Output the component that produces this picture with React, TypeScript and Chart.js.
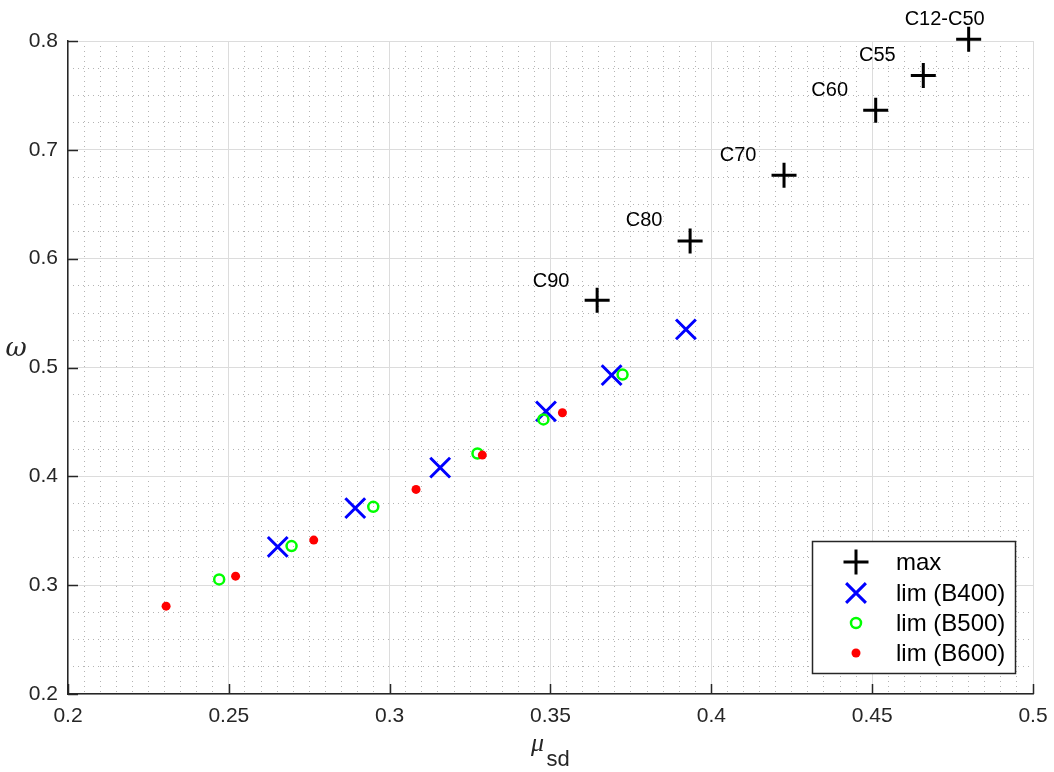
import React, { useEffect, useRef } from 'react';
import { Chart, registerables } from 'chart.js';
import { drawPoint } from 'chart.js/helpers';

Chart.register(...registerables);

// ---- data ----
const maxX = [0.3645, 0.3934, 0.4226, 0.4511, 0.4659, 0.4800];
const maxY = [0.5617, 0.6163, 0.6767, 0.7364, 0.7684, 0.8016];
const maxLabels = ['C90', 'C80', 'C70', 'C60', 'C55', 'C12-C50'];

const b400X = [0.2652, 0.2893, 0.3157, 0.3486, 0.3690, 0.3921];
const b400Y = [0.3352, 0.3708, 0.4080, 0.4597, 0.4930, 0.5350];

const b500X = [0.2470, 0.2695, 0.2949, 0.3273, 0.3478, 0.3724];
const b500Y = [0.3053, 0.3359, 0.3720, 0.4210, 0.4523, 0.4935];

const b600X = [0.2305, 0.2521, 0.2764, 0.3082, 0.3288, 0.3537];
const b600Y = [0.2807, 0.3083, 0.3414, 0.3880, 0.4195, 0.4584];

const seriesNames = ['max', 'lim (B400)', 'lim (B500)', 'lim (B600)'];

const xTicks = [0.2, 0.25, 0.3, 0.35, 0.4, 0.45, 0.5];
const yTicks = [0.2, 0.3, 0.4, 0.5, 0.6, 0.7, 0.8];
const xMinorStep = 0.005;
const yMinorStep = 0.025;

// ---- styles ----
const FONT = '"Liberation Sans", Arial, Helvetica, sans-serif';
const AXIS_COLOR = '#262626';
const labelOffsets = [
  [-46, -19],
  [-46, -20],
  [-46, -20],
  [-46, -20],
  [-46, -20],
  [-24, -20],
];

const toPts = (xs: number[], ys: number[]) => xs.map((x, i) => ({ x, y: ys[i] }));

const minorTicks = (min: number, max: number, step: number) => {
  const out: { value: number }[] = [];
  const n = Math.round((max - min) / step);
  for (let i = 0; i <= n; i++) out.push({ value: +(min + i * step).toFixed(4) });
  return out;
};
const isMajor = (v: number, majors: number[]) => majors.some((m) => Math.abs(m - v) < 1e-6);

const overlayPlugin = {
  id: 'overlay',
  afterDatasetsDraw(chart: any) {
    const { ctx, chartArea } = chart;
    const xs = chart.scales.x;
    const ys = chart.scales.y;
    ctx.save();

    // inward tick marks
    ctx.strokeStyle = AXIS_COLOR;
    ctx.lineWidth = 1.5;
    ctx.beginPath();
    xTicks.forEach((v) => {
      const px = Math.round(xs.getPixelForValue(v)) + 0.5;
      ctx.moveTo(px, chartArea.bottom);
      ctx.lineTo(px, chartArea.bottom - 10);
    });
    yTicks.forEach((v) => {
      const py = Math.round(ys.getPixelForValue(v)) + 0.5;
      ctx.moveTo(chartArea.left, py);
      ctx.lineTo(chartArea.left + 10, py);
    });
    ctx.stroke();

    // labels for max points
    const meta = chart.getDatasetMeta(0);
    ctx.fillStyle = '#000';
    ctx.font = `20px ${FONT}`;
    ctx.textAlign = 'center';
    ctx.textBaseline = 'middle';
    meta.data.forEach((el: any, i: number) => {
      const [dx, dy] = labelOffsets[i];
      ctx.fillText(maxLabels[i], el.x + dx, el.y + dy);
    });

    // legend
    const boxW = 203;
    const boxH = 132;
    const left = chartArea.right - 18 - boxW;
    const top = chartArea.bottom - 21 - boxH;
    ctx.fillStyle = '#fff';
    ctx.fillRect(left, top, boxW, boxH);
    ctx.strokeStyle = AXIS_COLOR;
    ctx.lineWidth = 1.5;
    ctx.strokeRect(left + 0.5, top + 0.5, boxW, boxH);
    const rows = [21, 52, 82, 112];
    chart.data.datasets.forEach((ds: any, i: number) => {
      const cy = top + rows[i];
      const el = chart.getDatasetMeta(i).data[0];
      const o = el.options;
      ctx.save();
      ctx.strokeStyle = o.borderColor;
      ctx.fillStyle = o.backgroundColor;
      ctx.lineWidth = o.borderWidth;
      drawPoint(ctx, { pointStyle: o.pointStyle, rotation: 0, radius: o.radius, borderWidth: o.borderWidth }, left + 44, cy);
      ctx.restore();
      ctx.fillStyle = '#000';
      ctx.font = `24px ${FONT}`;
      ctx.textAlign = 'left';
      ctx.textBaseline = 'middle';
      ctx.fillText(seriesNames[i], left + 84, cy + 1);
    });

    // axis titles
    ctx.fillStyle = AXIS_COLOR;
    ctx.textAlign = 'center';
    ctx.textBaseline = 'alphabetic';
    ctx.font = `italic 26px "DejaVu Serif", "Liberation Serif", serif`;
    ctx.fillText('\u03C9', 16, 356);
    const cx = (chartArea.left + chartArea.right) / 2;
    ctx.font = `italic 26px "Liberation Serif", serif`;
    ctx.fillText('\u03BC', cx - 13, 751);
    ctx.textAlign = 'left';
    ctx.font = `22px ${FONT}`;
    ctx.fillText('sd', cx - 4, 766);

    ctx.restore();
  },
};

export default function App() {
  const ref = useRef<HTMLCanvasElement>(null);

  useEffect(() => {
    if (!ref.current) return;
    const chart = new Chart(ref.current, {
      type: 'scatter',
      data: {
        datasets: [
          {
            label: seriesNames[0],
            data: toPts(maxX, maxY),
            pointStyle: 'cross',
            pointRadius: 12.5,
            pointBorderWidth: 3,
            borderColor: '#000000',
            backgroundColor: '#000000',
            order: 4,
            clip: false,
          },
          {
            label: seriesNames[1],
            data: toPts(b400X, b400Y),
            pointStyle: 'crossRot',
            pointRadius: 14,
            pointBorderWidth: 3,
            borderColor: '#0000ff',
            backgroundColor: '#0000ff',
            order: 3,
            clip: false,
          },
          {
            label: seriesNames[2],
            data: toPts(b500X, b500Y),
            pointStyle: 'circle',
            pointRadius: 5,
            pointBorderWidth: 2.5,
            borderColor: '#00ff00',
            backgroundColor: 'rgba(0,0,0,0)',
            order: 2,
            clip: false,
          },
          {
            label: seriesNames[3],
            data: toPts(b600X, b600Y),
            pointStyle: 'circle',
            pointRadius: 4.5,
            pointBorderWidth: 0,
            borderColor: '#ff0000',
            backgroundColor: '#ff0000',
            order: 1,
            clip: false,
          },
        ],
      },
      options: {
        responsive: false,
        animation: false,
        layout: { padding: { left: 0, top: 41, right: 21, bottom: 0 } },
        plugins: { legend: { display: false }, tooltip: { enabled: false }, title: { display: false } },
        scales: {
          xMinor: {
            type: 'linear',
            position: 'bottom',
            min: 0.2,
            max: 0.5,
            afterBuildTicks: (s: any) => { s.ticks = minorTicks(0.2, 0.5, xMinorStep); },
            afterFit: (s: any) => { s.height = 0; s.paddingLeft = 0; s.paddingRight = 0; },
            ticks: { display: false },
            border: { display: false, dash: [1, 4] },
            grid: {
              drawTicks: false,
              lineWidth: 1,
              color: (c: any) => (isMajor(c.tick.value, xTicks) ? 'rgba(0,0,0,0)' : '#b4b4b4'),
            },
          },
          yMinor: {
            type: 'linear',
            position: 'left',
            min: 0.2,
            max: 0.8,
            afterBuildTicks: (s: any) => { s.ticks = minorTicks(0.2, 0.8, yMinorStep); },
            afterFit: (s: any) => { s.width = 0; s.paddingTop = 0; s.paddingBottom = 0; },
            ticks: { display: false },
            border: { display: false, dash: [1, 4] },
            grid: {
              drawTicks: false,
              lineWidth: 1,
              color: (c: any) => (isMajor(c.tick.value, yTicks) ? 'rgba(0,0,0,0)' : '#b4b4b4'),
            },
          },
          x: {
            type: 'linear',
            position: 'bottom',
            min: 0.2,
            max: 0.5,
            afterBuildTicks: (s: any) => { s.ticks = xTicks.map((v) => ({ value: v })); },
            afterFit: (s: any) => { s.height = 78; s.paddingLeft = 0; s.paddingRight = 0; },
            ticks: {
              font: { family: FONT, size: 21 },
              color: AXIS_COLOR,
              padding: 10,
              maxRotation: 0,
              autoSkip: false,
              callback: (v: any) => String(v),
            },
            grid: { color: '#dcdcdc', lineWidth: 1, drawTicks: false },
            border: { display: true, color: AXIS_COLOR, width: 1.5 },
          },
          y: {
            type: 'linear',
            position: 'left',
            min: 0.2,
            max: 0.8,
            afterBuildTicks: (s: any) => { s.ticks = yTicks.map((v) => ({ value: v })); },
            afterFit: (s: any) => { s.width = 68; s.paddingTop = 0; s.paddingBottom = 0; },
            ticks: {
              font: { family: FONT, size: 21 },
              color: AXIS_COLOR,
              padding: 10,
              autoSkip: false,
              callback: (v: any) => String(v),
            },
            grid: { color: '#dcdcdc', lineWidth: 1, drawTicks: false },
            border: { display: true, color: AXIS_COLOR, width: 1.5 },
          },
        },
      } as any,
      plugins: [overlayPlugin],
    });
    return () => chart.destroy();
  }, []);

  return (
    <div style={{ position: 'absolute', left: 0, top: 0, width: 1054, height: 772, background: '#fff' }}>
      <canvas ref={ref} width={1054} height={772} style={{ display: 'block' }} />
    </div>
  );
}
